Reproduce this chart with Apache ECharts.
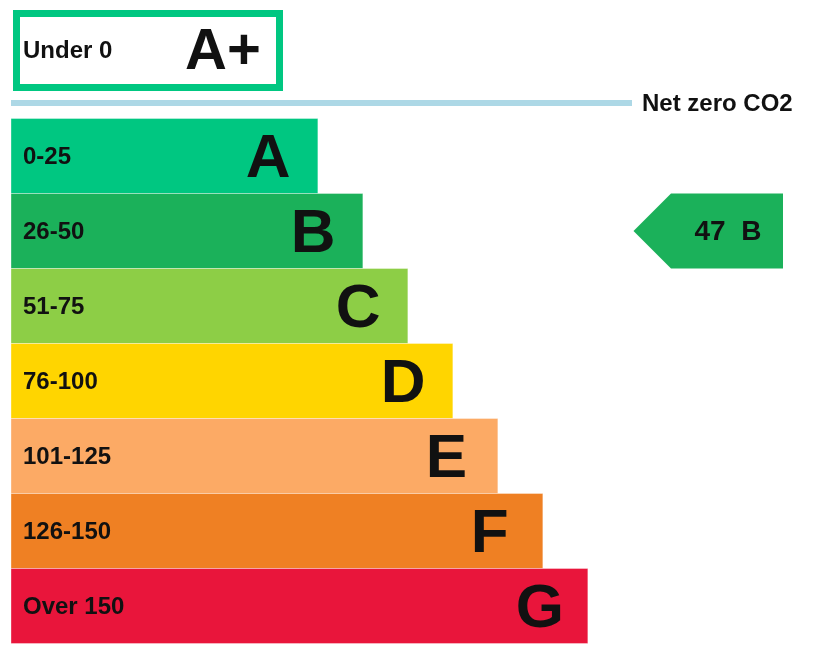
<!DOCTYPE html>
<html>
<head>
<meta charset="utf-8">
<title>Energy rating – CO2 emissions</title>
<script src="https://cdn.jsdelivr.net/npm/echarts@6/dist/echarts.min.js"></script>
<style>
  html, body { margin: 0; padding: 0; background: #ffffff; }
  #chart { width: 829px; height: 655px; }
</style>
</head>
<body>
<div id="chart"></div>
<script>
// Rating bands, top (best) to bottom (worst)
const bandLetters = ['A', 'B', 'C', 'D', 'E', 'F', 'G'];
const bandRanges = ['0-25', '26-50', '51-75', '76-100', '101-125', '126-150', 'Over 150'];
// Upper score of each band; the open-ended last band is drawn one step further
const bandUpper = [25, 50, 75, 100, 125, 150, 175];
const bandColors = ['#00c781', '#1bb15a', '#8dce46', '#ffd500', '#fcaa65', '#ef8023', '#e9153b'];

// Top band (net zero and below)
const topLetter = 'A+';
const topRange = 'Under 0';
const topColor = '#00c781';
const netZeroLabel = 'Net zero CO2';
const netZeroColor = '#add8e6';

// Current rating
const currentScore = 47;

const FONT = '"Liberation Sans", Arial, Helvetica, sans-serif';
const TEXT = '#111111';

const currentBand = bandUpper.findIndex(u => currentScore <= u);

const chart = echarts.init(document.getElementById('chart'), null, { renderer: 'canvas' });

const X_MIN = -145.5;
const X_MAX = 309;

chart.setOption({
  animation: false,
  backgroundColor: '#ffffff',
  grid: { left: 11, right: 0, top: 118.5, height: 525, containLabel: false },
  xAxis: { type: 'value', min: X_MIN, max: X_MAX, show: false },
  yAxis: { type: 'category', data: bandLetters, inverse: true, show: false },
  series: [
    {
      type: 'custom',
      name: 'bands',
      silent: true,
      data: bandUpper.map((u, i) => [u, i]),
      encode: { x: 0, y: 1 },
      renderItem: function (params, api) {
        const i = api.value(1);
        const start = api.coord([X_MIN, i]);
        const end = api.coord([api.value(0), i]);
        const h = api.size([0, 1])[1];
        const y0 = start[1] - h / 2;
        return {
          type: 'group',
          children: [
            {
              type: 'rect',
              shape: { x: start[0], y: y0, width: end[0] - start[0], height: h },
              style: { fill: bandColors[i], stroke: 'rgba(255,255,255,0.35)', lineWidth: 1 }
            },
            {
              type: 'text',
              style: {
                x: start[0] + 12, y: start[1] + 1.5,
                text: bandRanges[i],
                fill: TEXT, font: 'bold 24px ' + FONT,
                textAlign: 'left', textVerticalAlign: 'middle'
              }
            },
            {
              type: 'text',
              style: {
                x: end[0] - 72, y: start[1] + 3.5,
                text: bandLetters[i],
                fill: TEXT, font: 'bold 62px ' + FONT,
                textAlign: 'left', textVerticalAlign: 'middle'
              }
            }
          ]
        };
      }
    },
    {
      type: 'custom',
      name: 'current',
      silent: true,
      data: [[currentScore, currentBand]],
      encode: { x: 0, y: 1 },
      renderItem: function (params, api) {
        const i = api.value(1);
        const c = api.coord([X_MIN, i]);
        const h = api.size([0, 1])[1];
        const right = params.coordSys.x + params.coordSys.width - 46;
        const bodyLeft = right - 112;
        const tip = bodyLeft - h / 2;
        const top = c[1] - h / 2, bottom = c[1] + h / 2;
        return {
          type: 'group',
          children: [
            {
              type: 'polygon',
              shape: { points: [[tip, c[1]], [bodyLeft, top], [right, top], [right, bottom], [bodyLeft, bottom]] },
              style: { fill: bandColors[i] }
            },
            {
              type: 'text',
              style: {
                x: (bodyLeft + right) / 2 + 1, y: c[1] + 1.5,
                text: api.value(0) + '  ' + bandLetters[i],
                fill: TEXT, font: 'bold 28px ' + FONT,
                textAlign: 'center', textVerticalAlign: 'middle'
              }
            }
          ]
        };
      }
    }
  ],
  graphic: [
    {
      type: 'rect',
      shape: { x: 16.5, y: 13.5, width: 263, height: 74 },
      style: { fill: '#ffffff', stroke: topColor, lineWidth: 7 }
    },
    {
      type: 'text',
      style: {
        x: 23, y: 51.5, text: topRange, fill: TEXT,
        font: 'bold 24px ' + FONT, textAlign: 'left', textVerticalAlign: 'middle'
      }
    },
    {
      type: 'text',
      style: {
        x: 185, y: 52.5, text: topLetter, fill: TEXT,
        font: 'bold 58px ' + FONT, textAlign: 'left', textVerticalAlign: 'middle'
      }
    },
    {
      type: 'rect',
      shape: { x: 11, y: 100, width: 621, height: 6 },
      style: { fill: netZeroColor }
    },
    {
      type: 'text',
      style: {
        x: 642, y: 104, text: netZeroLabel, fill: TEXT,
        font: 'bold 24px ' + FONT, textAlign: 'left', textVerticalAlign: 'middle'
      }
    }
  ]
});
</script>
</body>
</html>
